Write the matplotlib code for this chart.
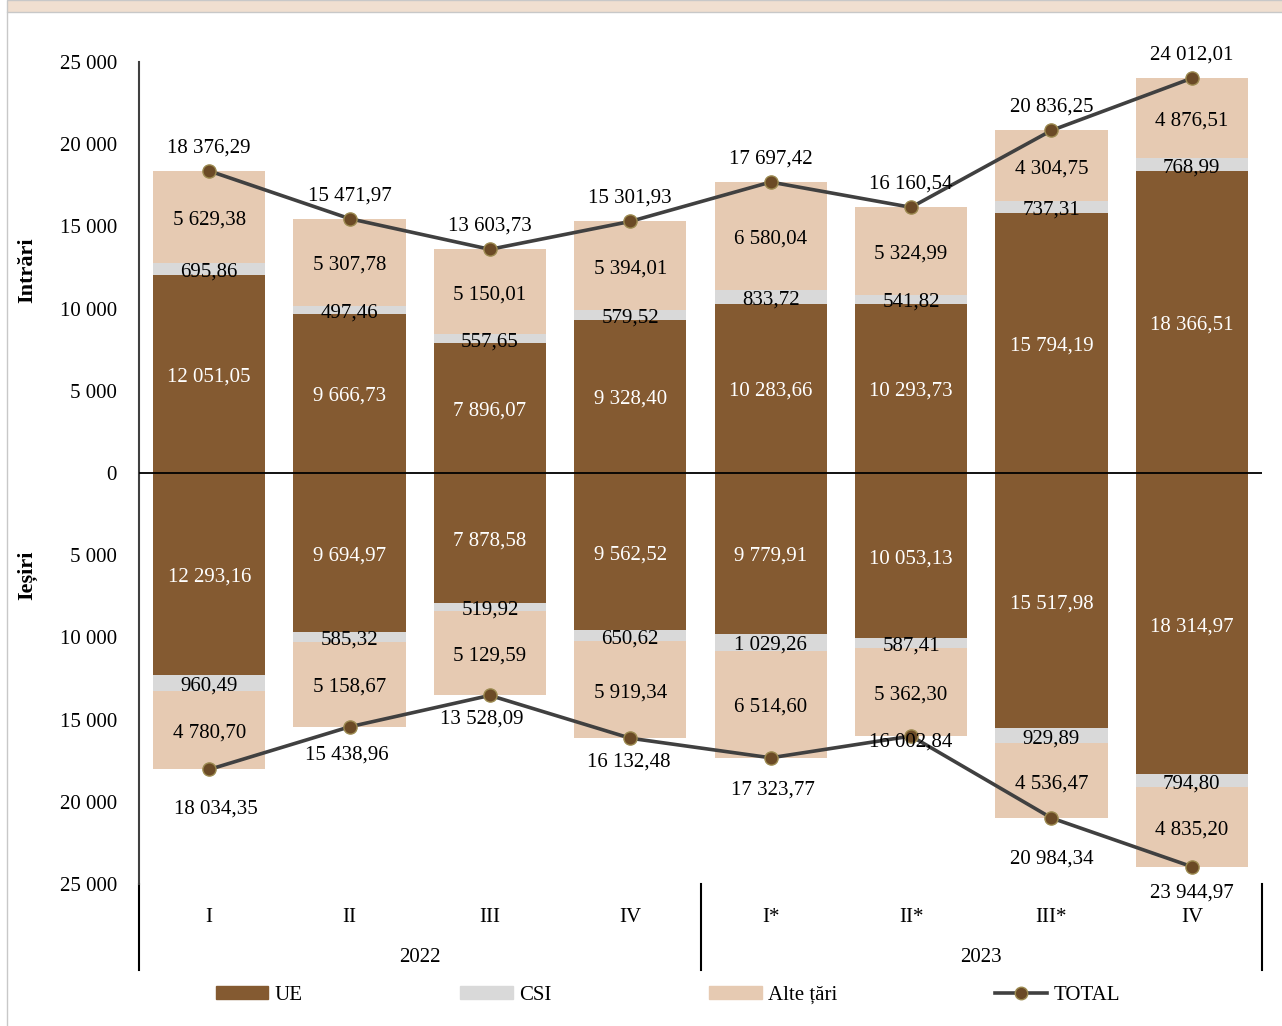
import matplotlib.pyplot as plt
from matplotlib.patches import Rectangle
from matplotlib.lines import Line2D
from matplotlib.ticker import FuncFormatter

plt.rcParams["font.family"] = ["Liberation Serif", "DejaVu Serif"]

quarters = ["I", "II", "III", "IV", "I*", "II*", "III*", "IV"]
years = ["2022", "2023"]

in_ue = [12051.05, 9666.73, 7896.07, 9328.40, 10283.66, 10293.73, 15794.19, 18366.51]
in_csi = [695.86, 497.46, 557.65, 579.52, 833.72, 541.82, 737.31, 768.99]
in_alte = [5629.38, 5307.78, 5150.01, 5394.01, 6580.04, 5324.99, 4304.75, 4876.51]
in_total = [18376.29, 15471.97, 13603.73, 15301.93, 17697.42, 16160.54, 20836.25, 24012.01]

out_ue = [12293.16, 9694.97, 7878.58, 9562.52, 9779.91, 10053.13, 15517.98, 18314.97]
out_csi = [960.49, 585.32, 519.92, 650.62, 1029.26, 587.41, 929.89, 794.80]
out_alte = [4780.70, 5158.67, 5129.59, 5919.34, 6514.60, 5362.30, 4536.47, 4835.20]
out_total = [18034.35, 15438.96, 13528.09, 16132.48, 17323.77, 16002.84, 20984.34, 23944.97]

C_UE = "#845a31"
C_CSI = "#d9d9d9"
C_ALTE = "#e6cab2"
C_LINE = "#404040"
FS = 15


def fmt(v):
    s = f"{abs(v):,.2f}"
    return s.replace(",", " ").replace(".", ",")


def label(ax, txt, xy, off=(0, -3), **kw):
    ax.annotate(txt, xy, xytext=off, textcoords="offset pixels", ha="center", va="center",
                fontsize=FS, zorder=5, **kw)


fig = plt.figure(figsize=(12.82, 10.26), dpi=100)
# top band and left border
fig.patches.append(Rectangle((7 / 1282, 1 - 12 / 1026), 1, 12 / 1026, transform=fig.transFigure,
                             facecolor="#f0dfd0", edgecolor="#c8c8c8", lw=1))
fig.add_artist(Line2D([7 / 1282, 7 / 1282], [0, 1 - 12 / 1026], transform=fig.transFigure,
                      color="#c8c8c8", lw=1))

ax = fig.add_axes([139 / 1282, 1 - 884 / 1026, 1123 / 1282, 822 / 1026])
x = list(range(len(quarters)))
w = 0.8

ax.bar(x, in_ue, w, color=C_UE, zorder=2)
ax.bar(x, in_csi, w, bottom=in_ue, color=C_CSI, zorder=2)
b2 = [a + b for a, b in zip(in_ue, in_csi)]
ax.bar(x, in_alte, w, bottom=b2, color=C_ALTE, zorder=2)

nu = [-v for v in out_ue]
ax.bar(x, nu, w, color=C_UE, zorder=2)
nc = [-v for v in out_csi]
ax.bar(x, nc, w, bottom=nu, color=C_CSI, zorder=2)
nb2 = [a + b for a, b in zip(nu, nc)]
ax.bar(x, [-v for v in out_alte], w, bottom=nb2, color=C_ALTE, zorder=2)

ax.plot(x, in_total, color=C_LINE, lw=2.6, marker="o", ms=9.5, mfc="#6b4a26",
        mec="#9c8a50", mew=1, zorder=4)
ax.plot(x, [-v for v in out_total], color=C_LINE, lw=2.6, marker="o", ms=9.5, mfc="#6b4a26",
        mec="#9c8a50", mew=1, zorder=4)

for i in x:
    label(ax, fmt(in_ue[i]), (i, in_ue[i] / 2), color="white")
    label(ax, fmt(in_csi[i]), (i, in_ue[i] + in_csi[i] / 2))
    label(ax, fmt(in_alte[i]), (i, b2[i] + in_alte[i] / 2))
    label(ax, fmt(in_total[i]), (i, in_total[i]), off=(0, 23))

    label(ax, fmt(out_ue[i]), (i, -out_ue[i] / 2), color="white")
    label(ax, fmt(out_csi[i]), (i, -out_ue[i] - out_csi[i] / 2))
    label(ax, fmt(out_alte[i]), (i, nb2[i] - out_alte[i] / 2))

out_off = [(7, -40), (-3, -28), (-8, -24), (-2, -24), (2, -32), (0, -6), (0, -41), (0, -26)]
for i in x:
    label(ax, fmt(out_total[i]), (i, -out_total[i]), off=out_off[i])

ax.axhline(0, color="black", lw=1.3, zorder=3)
ax.set_xlim(-0.5, 7.5)
ax.set_ylim(-25000, 25000)
ax.set_yticks(range(-25000, 25001, 5000))
ax.yaxis.set_major_formatter(FuncFormatter(lambda v, p: f"{abs(int(v)):,}".replace(",", " ")))
ax.tick_params(axis="y", length=0, pad=16, labelsize=FS)
ax.set_xticks(x)
ax.set_xticklabels(quarters)
ax.tick_params(axis="x", length=0, pad=17, labelsize=FS)
for s in ["top", "right", "bottom"]:
    ax.spines[s].set_visible(False)
ax.spines["left"].set_color("#404040")
ax.spines["left"].set_linewidth(1.5)

tr = ax.get_xaxis_transform()
y_low = -(970 - 884) / 822
for xs in [-0.5, 3.5, 7.5]:
    ax.add_line(Line2D([xs, xs], [0, y_low], transform=tr, color="black", lw=1.5, clip_on=False))
for j, yr in enumerate(years):
    ax.text(1.5 + 4 * j, -(958 - 884) / 822, yr, transform=tr, ha="center", va="center",
            fontsize=FS)

fig.text(27 / 1282, 1 - 270 / 1026, "Intrări", rotation=90, ha="center", va="center",
         fontsize=FS + 1, fontweight="bold")
fig.text(27 / 1282, 1 - 575 / 1026, "Ieșiri", rotation=90, ha="center", va="center",
         fontsize=FS + 1, fontweight="bold")

handles = [Rectangle((0, 0), 1, 1, color=C_UE), Rectangle((0, 0), 1, 1, color=C_CSI),
           Rectangle((0, 0), 1, 1, color=C_ALTE),
           Line2D([], [], color=C_LINE, lw=2.6, marker="o", ms=9, mfc="#6b4a26", mec="#9c8a50")]
fig.legend(handles, ["UE", "CSI", "Alte țări", "TOTAL"], loc="center", ncol=4,
           bbox_to_anchor=(668 / 1282, 1 - 995 / 1026), frameon=False, fontsize=FS,
           handlelength=2.5, handleheight=0.6, handletextpad=0.3, columnspacing=7.6)

fig.savefig("out.png", dpi=100)
